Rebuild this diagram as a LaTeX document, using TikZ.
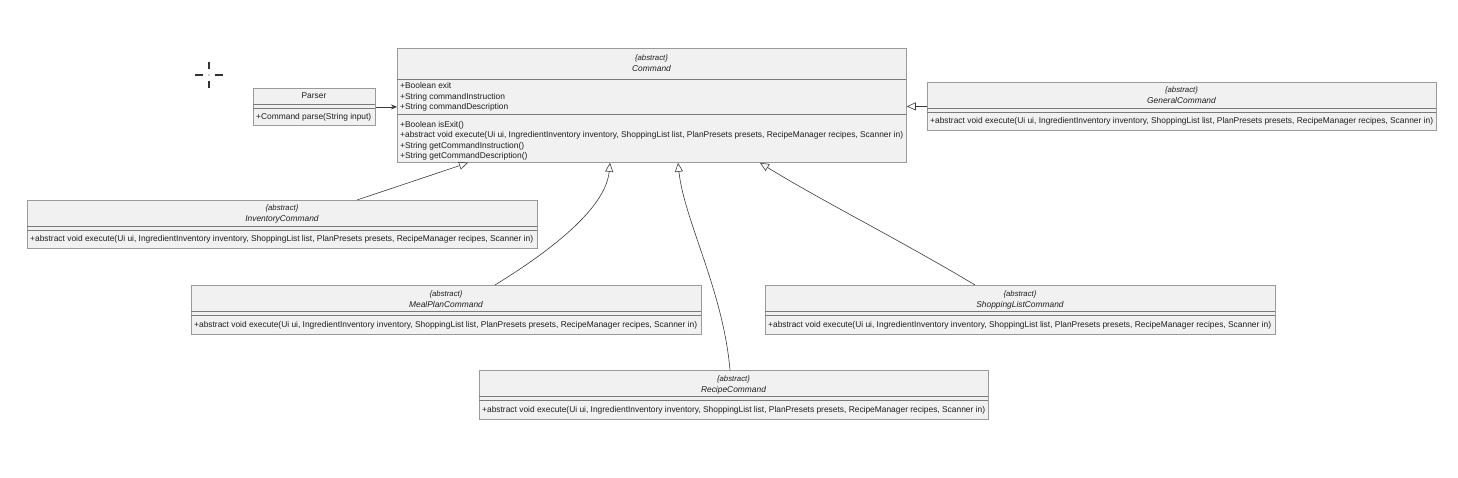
\documentclass[tikz,border=0pt]{standalone}
\usepackage{fontspec}
\setmainfont{Liberation Sans}
\usetikzlibrary{arrows.meta,calc}
\definecolor{boxfill}{HTML}{F1F1F1}
\definecolor{boxline}{HTML}{9A9A9A}
\definecolor{sepline}{HTML}{7A7A7A}
\definecolor{conn}{HTML}{3A3A3A}
\definecolor{txtc}{HTML}{1E1E1E}
\newcommand{\umlfs}{\fontsize{8.4}{10}\selectfont}
\newcommand{\umlst}{\fontsize{7.8}{10}\selectfont\itshape}
\begin{document}
\begin{tikzpicture}[x=1pt,y=-1pt,
  umlbox/.style={draw=boxline, fill=boxfill, line width=0.8pt, inner sep=0pt, anchor=north west},
  sep/.style={draw=sepline, line width=0.7pt},
  mem/.style={inner sep=0pt, anchor=base west, font=\umlfs, text=txtc},
  ster/.style={inner sep=0pt, anchor=base, font=\umlst, text=txtc},
  cname/.style={inner sep=0pt, anchor=base, font=\umlfs\itshape, text=txtc},
  pname/.style={inner sep=0pt, anchor=base, font=\umlfs, text=txtc},
  ext/.style={draw=conn, line width=0.6pt, -{Triangle[open, length=9pt, width=8pt]}},
  assoc/.style={draw=conn, line width=0.6pt, -{Stealth[length=6pt, width=5pt]}},
  cross/.style={draw=black!80, line width=1.3pt}]
\useasboundingbox (0,0) rectangle (1458,478);

% cursor cross
\coordinate (xc) at (209,75);
\draw[cross] (209,62) -- (209,69);
\draw[cross] (209,81) -- (209,88);
\draw[cross] (195,75) -- (203,75);
\draw[cross] (215,75) -- (223,75);
\fill[black!80] (xc) circle (0.7);

% Command
\node[umlbox, minimum width=509pt, minimum height=114pt] (cmd) at (397,48) {};
\draw[sep] (397,79) -- (906,79);
\draw[sep] (397,114) -- (906,114);
\node[ster] (cmdS) at (651.5,61) {\{abstract\}};
\node[cname] (cmdN) at (651.5,71.5) {Command};
\node[mem] (c1) at (400,88.5) {+Boolean exit};
\node[mem] (c2) at (400,99.5) {+String commandInstruction};
\node[mem] (c3) at (400,110) {+String commandDescription};
\node[mem] (c4) at (400,127.5) {+Boolean isExit()};
\node[mem] (c5) at (400,138) {+abstract void execute(Ui ui, IngredientInventory inventory, ShoppingList list, PlanPresets presets, RecipeManager recipes, Scanner in)};
\node[mem] (c6) at (400,148.5) {+String getCommandInstruction()};
\node[mem] (c7) at (400,159) {+String getCommandDescription()};

% Parser
\node[umlbox, minimum width=122pt, minimum height=37pt] (parser) at (253,88) {};
\draw[sep] (253,104.5) -- (375,104.5);
\draw[sep] (253,108.5) -- (375,108.5);
\node[pname] (pN) at (314,99) {Parser};
\node[mem] (p1) at (256,120) {+Command parse(String input)};

% GeneralCommand
\node[umlbox, minimum width=509pt, minimum height=48pt] (gen) at (927,82) {};
\draw[sep] (927,108) -- (1436,108);
\draw[sep] (927,112) -- (1436,112);
\node[ster] (genS) at (1181.5,93) {\{abstract\}};
\node[cname] (genN) at (1181.5,104) {GeneralCommand};
\node[mem] (g1) at (930,123.5) {+abstract void execute(Ui ui, IngredientInventory inventory, ShoppingList list, PlanPresets presets, RecipeManager recipes, Scanner in)};

% InventoryCommand
\node[umlbox, minimum width=510pt, minimum height=48pt] (inv) at (27,200) {};
\draw[sep] (27,226) -- (537,226);
\draw[sep] (27,230) -- (537,230);
\node[ster] (invS) at (282,211) {\{abstract\}};
\node[cname] (invN) at (282,222) {InventoryCommand};
\node[mem] (i1) at (30,241.5) {+abstract void execute(Ui ui, IngredientInventory inventory, ShoppingList list, PlanPresets presets, RecipeManager recipes, Scanner in)};

% MealPlanCommand
\node[umlbox, minimum width=510pt, minimum height=49pt] (meal) at (191,285) {};
\draw[sep] (191,311) -- (701,311);
\draw[sep] (191,315) -- (701,315);
\node[ster] (mealS) at (446,296) {\{abstract\}};
\node[cname] (mealN) at (446,307) {MealPlanCommand};
\node[mem] (m1) at (194,327) {+abstract void execute(Ui ui, IngredientInventory inventory, ShoppingList list, PlanPresets presets, RecipeManager recipes, Scanner in)};

% ShoppingListCommand
\node[umlbox, minimum width=510pt, minimum height=49pt] (shop) at (765,285) {};
\draw[sep] (765,311) -- (1275,311);
\draw[sep] (765,315) -- (1275,315);
\node[ster] (shopS) at (1020,296) {\{abstract\}};
\node[cname] (shopN) at (1020,307) {ShoppingListCommand};
\node[mem] (s1) at (768,327) {+abstract void execute(Ui ui, IngredientInventory inventory, ShoppingList list, PlanPresets presets, RecipeManager recipes, Scanner in)};

% RecipeCommand
\node[umlbox, minimum width=509pt, minimum height=49pt] (rec) at (479,370) {};
\draw[sep] (479,396) -- (988,396);
\draw[sep] (479,400) -- (988,400);
\node[ster] (recS) at (733.5,381) {\{abstract\}};
\node[cname] (recN) at (733.5,392) {RecipeCommand};
\node[mem] (r1) at (482,412) {+abstract void execute(Ui ui, IngredientInventory inventory, ShoppingList list, PlanPresets presets, RecipeManager recipes, Scanner in)};

% connection points
\coordinate (cmdInv) at ($(cmd.south west)+(71,0)$);
\coordinate (cmdMeal) at ($(cmd.south west)+(213,0)$);
\coordinate (cmdRec) at ($(cmd.south west)+(281,0)$);
\coordinate (cmdShop) at ($(cmd.south west)+(363,0)$);
\coordinate (invTop) at ($(inv.north west)+(330,0)$);
\coordinate (mealTop) at ($(meal.north west)+(304,0)$);
\coordinate (recTop) at ($(rec.north west)+(251,0)$);
\coordinate (shopTop) at ($(shop.north west)+(210,0)$);

% connectors
\draw[assoc] (parser.east) -- (parser.east -| cmd.west);
\draw[ext] (gen.west) -- (gen.west -| cmd.east);
\draw[ext] (invTop) -- (cmdInv);
\draw[ext] (mealTop) .. controls (560,245) and (606,205) .. (cmdMeal);
\draw[ext] (recTop) .. controls (723,290) and (684,220) .. (cmdRec);
\draw[ext] (shopTop) .. controls (900,240) and (820,200) .. (cmdShop);
\end{tikzpicture}
\end{document}
